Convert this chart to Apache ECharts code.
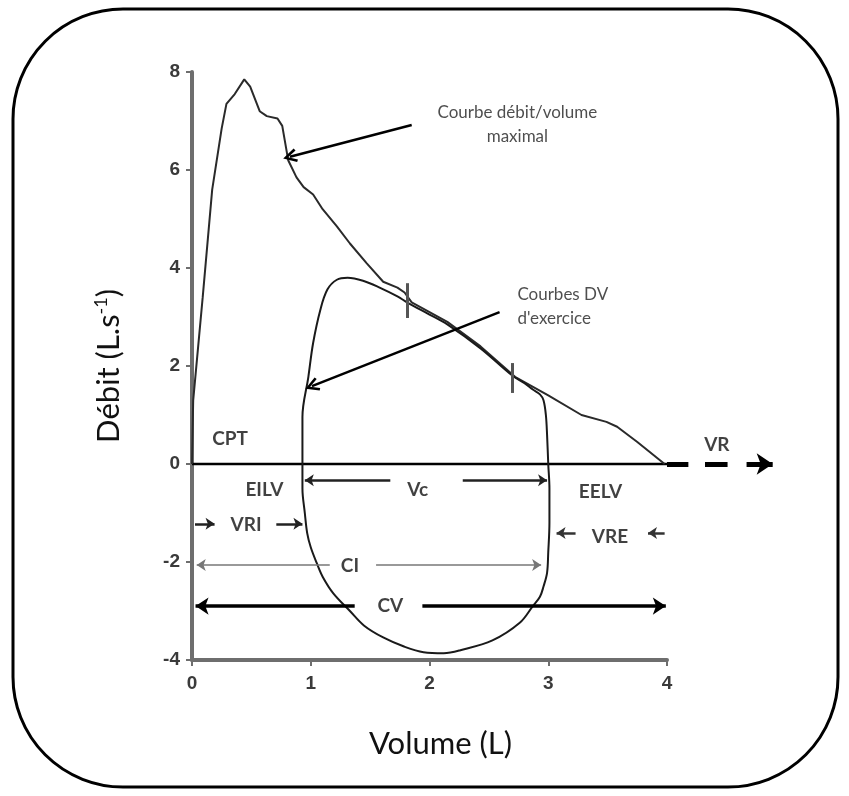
<!DOCTYPE html>
<html>
<head>
<meta charset="utf-8">
<script src="https://cdn.jsdelivr.net/npm/echarts@6/dist/echarts.min.js"></script>
<style>
html,body{margin:0;padding:0;background:#fff;}
#chart{width:849px;height:796px;}
</style>
</head>
<body>
<div id="chart"></div>
<script>
// ---- Data (Volume L, Débit L/s) ----
var xTicks = [0, 1, 2, 3, 4];
var yTicks = [-4, -2, 0, 2, 4, 6, 8];

var maxCurve = [
  [0,0],[0.01,1.3],[0.09,3.4],[0.17,5.6],[0.25,6.85],[0.29,7.35],[0.36,7.55],[0.44,7.85],
  [0.49,7.7],[0.57,7.2],[0.63,7.1],[0.72,7.05],[0.76,6.9],[0.81,6.2],[0.88,5.85],[0.94,5.65],
  [1.02,5.5],[1.10,5.2],[1.22,4.85],[1.33,4.5],[1.47,4.1],[1.61,3.72],[1.73,3.6],[1.79,3.5],
  [1.85,3.3],[2.15,2.9],[2.43,2.4],[2.72,1.78],[3.0,1.4],[3.28,1.0],[3.49,0.86],[3.58,0.76],
  [3.75,0.45],[3.98,0]
];

var exerciseLoop = [
  [0.93,0],[0.93,0.96],[0.98,1.78],[1.02,2.47],[1.08,3.14],[1.14,3.56],[1.22,3.76],[1.31,3.8],
  [1.44,3.74],[1.58,3.6],[1.73,3.42],[1.81,3.3],[2.0,3.05],[2.15,2.85],[2.43,2.36],[2.70,1.8],
  [2.80,1.65],[2.87,1.52],[2.93,1.42],[2.96,1.3],[2.98,1.0],[2.99,0.6],[3.0,0],
  [3.01,-0.5],[3.01,-1.2],[3.0,-1.8],[2.99,-2.22],[2.96,-2.5],[2.93,-2.71],[2.87,-2.9],
  [2.76,-3.24],[2.53,-3.6],[2.26,-3.8],[2.12,-3.86],[1.95,-3.84],[1.78,-3.72],[1.61,-3.54],
  [1.45,-3.3],[1.33,-3.0],[1.19,-2.64],[1.1,-2.3],[1.05,-2.02],[1.0,-1.7],[0.97,-1.41],
  [0.95,-1.0],[0.93,-0.5],[0.93,0]
];

// small vertical marks on the maximal curve
var curveMarks = [
  [[1.81,2.98],[1.81,3.69]],
  [[2.70,1.45],[2.70,2.06]]
];

// zero line and VR extension
var zeroLine = [[0,0],[4,0]];
var vrSegments = [[[4,0],[4.18,0]], [[4.32,0],[4.51,0]]];
var vrArrow = [[4.67,0],[4.89,0]];

// annotation arrows [from, to] (arrowhead at "to")
var vcArrows  = [[[1.67,-0.33],[0.95,-0.33]], [[2.28,-0.33],[2.99,-0.33]]];
var vriArrows = [[[0.025,-1.22],[0.19,-1.22]], [[0.71,-1.22],[0.93,-1.22]]];
var vreArrows = [[[3.23,-1.41],[3.07,-1.41]], [[3.98,-1.41],[3.84,-1.41]]];
var ciArrows  = [[[1.16,-2.06],[0.04,-2.06]], [[1.55,-2.06],[2.94,-2.06]]];
var cvArrows  = [[[1.37,-2.9],[0.03,-2.9]], [[1.94,-2.9],[3.99,-2.9]]];
var calloutArrows = [[[1.85,6.92],[0.825,6.27]], [[2.59,3.10],[1.01,1.59]]];

// text labels
var abbrevLabels = [
  {name:'CPT',  value:[0.32,0.51]},
  {name:'EILV', value:[0.61,-0.53]},
  {name:'VRI',  value:[0.455,-1.24]},
  {name:'Vc',   value:[1.90,-0.53]},
  {name:'EELV', value:[3.44,-0.57]},
  {name:'VRE',  value:[3.52,-1.49]},
  {name:'CI',   value:[1.33,-2.08]},
  {name:'CV',   value:[1.67,-2.9]},
  {name:'VR',   value:[4.42,0.39]}
];
var calloutCenter = [{name:'Courbe débit/volume\nmaximal', value:[2.74,6.92]}];
var calloutLeft = [{name:'Courbes DV\nd\'exercice', value:[2.74,3.22]}];

// ---- Chart ----
var chart = echarts.init(document.getElementById('chart'), null, {renderer:'canvas'});
var FONT = 'Lato, "Open Sans", sans-serif';
var OPEN_ARROW = 'path://M5,0 L10,9 L8.4,10 L5,3.6 L1.6,10 L0,9 Z';

function segs(arr){ return arr.map(function(s){ return {coords:s}; }); }

function arrowSeries(arr, color, width, symSize, symbol){
  return {
    type:'lines', coordinateSystem:'cartesian2d', clip:false, silent:true, z:4,
    data: segs(arr),
    symbol:['none', symbol || 'arrow'], symbolSize: symSize,
    lineStyle:{color:color, width:width, opacity:1, curveness:0}
  };
}

var option = {
  backgroundColor:'#fff',
  animation:false,
  grid:{left:192, right:182, top:72, bottom:136, outerBoundsMode:'none'},
  xAxis:{
    type:'value', min:0, max:4, interval:1,
    name:'Volume (L)', nameLocation:'middle', nameGap:68,
    nameTextStyle:{fontFamily:FONT, fontSize:31, color:'#111', padding:[0,0,0,22]},
    axisLine:{onZero:false, lineStyle:{color:'#6e6e6e', width:4}},
    axisTick:{show:true, length:6, lineStyle:{color:'#6e6e6e', width:2}},
    axisLabel:{fontFamily:'"Liberation Sans", Arial, sans-serif', fontWeight:'bold', fontSize:19, color:'#3a3a3a', margin:14},
    splitLine:{show:false}
  },
  yAxis:{
    type:'value', min:-4, max:8, interval:2,
    name:'Débit (L.s{sup|-1})', nameLocation:'middle', nameGap:66, nameRotate:90,
    nameTextStyle:{fontFamily:FONT, fontSize:31, color:'#111',
      rich:{sup:{fontFamily:FONT, fontSize:18, color:'#111', verticalAlign:'top', padding:[0,0,16,0]}}},
    axisLine:{onZero:false, lineStyle:{color:'#6e6e6e', width:4}},
    axisTick:{show:true, length:6, lineStyle:{color:'#6e6e6e', width:2}},
    axisLabel:{fontFamily:'"Liberation Sans", Arial, sans-serif', fontWeight:'bold', fontSize:19, color:'#3a3a3a', margin:12},
    splitLine:{show:false}
  },
  graphic:[{
    type:'rect', silent:true, z:-1,
    shape:{x:13, y:9, width:825, height:778, r:110},
    style:{fill:'none', stroke:'#000', lineWidth:3}
  }],
  series:[
    {type:'line', data:zeroLine, symbol:'none', lineStyle:{color:'#000', width:2.5}, z:3, silent:true},
    arrowSeries(vrSegments, '#000', 5, 0, 'none'),
    arrowSeries([vrArrow], '#000', 5, 16),
    {type:'line', data:maxCurve, symbol:'none', lineStyle:{color:'#2a2a2a', width:2}, z:3, silent:true},
    {type:'line', data:exerciseLoop, symbol:'none', smooth:0.35, lineStyle:{color:'#1a1a1a', width:2}, z:3, silent:true},
    arrowSeries(curveMarks, '#555', 3, 0, 'none'),
    arrowSeries(vcArrows, '#222', 2.5, 9),
    arrowSeries(vriArrows, '#222', 2.5, 9),
    arrowSeries(vreArrows, '#333', 2.5, 9),
    arrowSeries(ciArrows, '#777', 1.5, 9),
    arrowSeries(cvArrows, '#000', 3.5, 13),
    arrowSeries(calloutArrows, '#000', 2.5, 14, OPEN_ARROW),
    {
      type:'scatter', data:abbrevLabels, symbolSize:0, silent:true, z:6, clip:false,
      label:{show:true, position:'inside', formatter:'{b}', fontFamily:FONT, fontWeight:'bold', fontSize:19, color:'#111'}
    },
    {
      type:'scatter', data:calloutCenter, symbolSize:0, silent:true, z:6, clip:false,
      label:{show:true, position:'inside', formatter:'{b}', align:'center', fontFamily:FONT, fontSize:17, lineHeight:24, color:'#222'}
    },
    {
      type:'scatter', data:calloutLeft, symbolSize:0, silent:true, z:6, clip:false,
      label:{show:true, position:'right', distance:0, formatter:'{b}', align:'left', fontFamily:FONT, fontSize:17, lineHeight:24, color:'#222'}
    }
  ]
};
chart.setOption(option);
</script>
</body>
</html>
